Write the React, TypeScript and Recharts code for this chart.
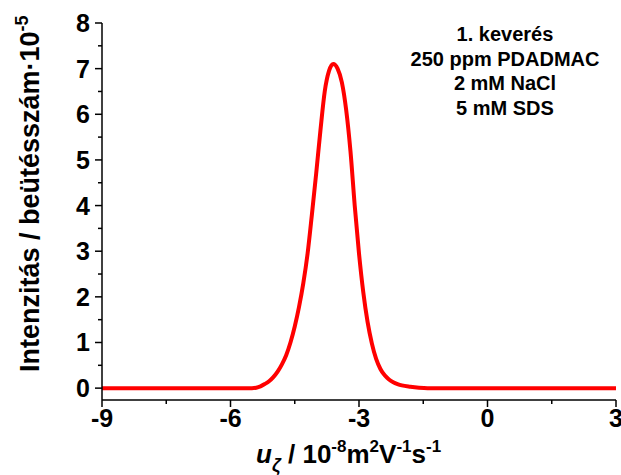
import React from 'react'
import { LineChart, Line, XAxis, YAxis } from 'recharts'

// electrophoretic mobility (10^-8 m2/Vs) and measured intensity (10^5 counts)
const mobility = [
  -9, -6, -5.5, -5.4, -5.3, -5.2, -5.1, -5.0, -4.9, -4.8, -4.7, -4.6, -4.5, -4.4, -4.3, -4.2,
  -4.1, -4.0, -3.9, -3.8, -3.7, -3.6, -3.5, -3.4, -3.3, -3.2, -3.1, -3.0, -2.9, -2.8, -2.7,
  -2.6, -2.5, -2.4, -2.3, -2.2, -2.1, -2.0, -1.8, -1.6, -1.4, 0, 3,
]
const intensity = [
  0, 0, 0, 0.01, 0.04, 0.09, 0.15, 0.24, 0.36, 0.52, 0.72, 1.0, 1.35, 1.78, 2.3, 2.95,
  3.8, 4.7, 5.65, 6.5, 6.95, 7.1, 7.0, 6.7, 6.1, 5.2, 4.0, 2.95, 2.1, 1.45, 0.98,
  0.64, 0.42, 0.28, 0.19, 0.13, 0.09, 0.06, 0.03, 0.01, 0, 0, 0,
]

const xTicks = [-9, -7.5, -6, -4.5, -3, -1.5, 0, 1.5, 3]
const xMajor = [-9, -6, -3, 0, 3]
const yTicks = [0, 0.5, 1, 1.5, 2, 2.5, 3, 3.5, 4, 4.5, 5, 5.5, 6, 6.5, 7, 7.5, 8]

const sampleInfo = ['1. keverés', '250 ppm PDADMAC', '2 mM NaCl', '5 mM SDS']

const FONT = '"Liberation Sans", Arial, sans-serif'

const data = mobility.map((u, i) => ({ u, intensity: intensity[i] }))

const XTick = ({ x, y, payload }: any) => {
  const major = xMajor.includes(payload.value)
  return (
    <g>
      <line x1={x} x2={x} y1={y} y2={y + (major ? 7 : 4)} stroke="#000" strokeWidth={1.5} />
      {major && (
        <text x={x} y={y + 27} textAnchor="middle" fontSize={25} fontWeight="bold" fontFamily={FONT} fill="#000">
          {String(payload.value)}
        </text>
      )}
    </g>
  )
}

const YTick = ({ x, y, payload }: any) => {
  const major = Number.isInteger(payload.value)
  return (
    <g>
      <line x1={x - (major ? 7 : 4)} x2={x} y1={y} y2={y} stroke="#000" strokeWidth={1.5} />
      {major && (
        <text x={x - 12} y={y + 9} textAnchor="end" fontSize={25} fontWeight="bold" fontFamily={FONT} fill="#000">
          {String(payload.value)}
        </text>
      )}
    </g>
  )
}

export default function App() {
  return (
    <div style={{ width: 621, height: 475, background: '#fff' }}>
      <style>{'body{margin:0}'}</style>
      <LineChart width={621} height={475} data={data} margin={{ top: 23, right: 5, left: 0, bottom: 0 }}>
        <XAxis
          dataKey="u"
          type="number"
          domain={[-9, 3]}
          ticks={xTicks}
          interval={0}
          height={75}
          tickSize={0}
          tickMargin={0}
          tick={<XTick />}
          axisLine={{ stroke: '#000', strokeWidth: 1.5 }}
          tickLine={false}
        />
        <YAxis
          type="number"
          domain={[-0.26, 8]}
          ticks={yTicks}
          interval={0}
          width={102}
          tickSize={0}
          tickMargin={0}
          tick={<YTick />}
          axisLine={{ stroke: '#000', strokeWidth: 1.5 }}
          tickLine={false}
        />
        <Line
          type="monotone"
          dataKey="intensity"
          stroke="#ff0000"
          strokeWidth={4}
          dot={false}
          isAnimationActive={false}
        />

        {/* rotated y title */}
        <text
          transform="translate(39,372) rotate(-90)"
          fontSize={27}
          fontWeight="bold"
          fontFamily={FONT}
          fill="#000"
        >
          Intenzitás / beütésszám·10
          <tspan dy={-11} fontSize={18}>-5</tspan>
        </text>

        {/* x title */}
        <text x={256} y={463} fontSize={26} fontWeight="bold" fontFamily={FONT} fill="#000">
          <tspan fontStyle="italic">u</tspan>
          <tspan dy={8} fontSize={18} fontStyle="italic">ζ</tspan>
          <tspan dy={-8}> / 10</tspan>
          <tspan dy={-11} fontSize={17}>-8</tspan>
          <tspan dy={11}>m</tspan>
          <tspan dy={-11} fontSize={17}>2</tspan>
          <tspan dy={11}>V</tspan>
          <tspan dy={-11} fontSize={17}>-1</tspan>
          <tspan dy={11}>s</tspan>
          <tspan dy={-11} fontSize={17}>-1</tspan>
        </text>

        {sampleInfo.map((line, i) => (
          <text
            key={line}
            x={505}
            y={41 + i * 24.5}
            textAnchor="middle"
            fontSize={20}
            fontWeight="bold"
            fontFamily={FONT}
            fill="#000"
          >
            {line}
          </text>
        ))}
      </LineChart>
    </div>
  )
}
